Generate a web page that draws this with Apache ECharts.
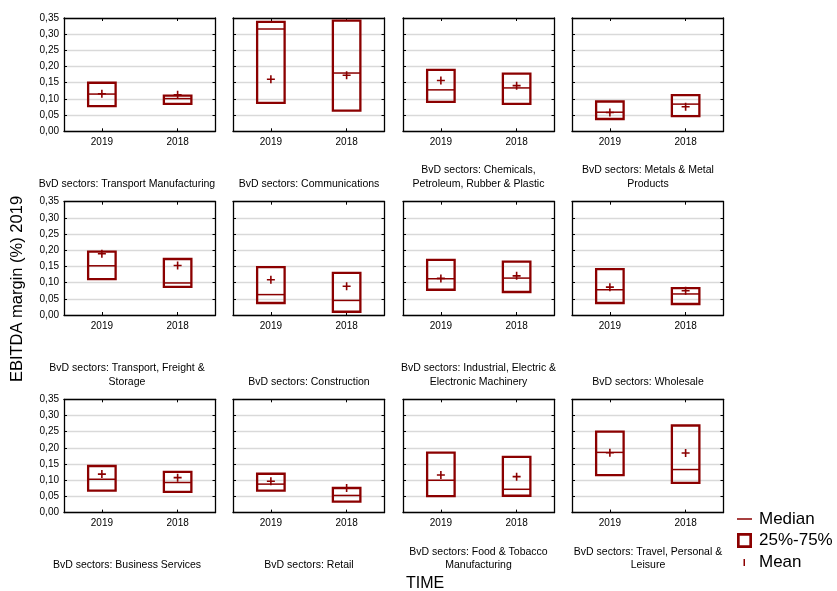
<!DOCTYPE html>
<html>
<head>
<meta charset="utf-8">
<script src="https://cdn.jsdelivr.net/npm/echarts@6/dist/echarts.min.js"></script>
<style>
html,body{margin:0;padding:0;background:#fff;}
#chart{width:837px;height:591px;}
</style>
</head>
<body>
<div id="chart"></div>
<script>
// ---- data ----
const categories = ['2019', '2018'];
const sectors = [
  'BvD sectors: Transport Manufacturing',
  'BvD sectors: Communications',
  'BvD sectors: Chemicals,\nPetroleum, Rubber & Plastic',
  'BvD sectors: Metals & Metal\nProducts',
  'BvD sectors: Transport, Freight &\nStorage',
  'BvD sectors: Construction',
  'BvD sectors: Industrial, Electric &\nElectronic Machinery',
  'BvD sectors: Wholesale',
  'BvD sectors: Business Services',
  'BvD sectors: Retail',
  'BvD sectors: Food & Tobacco\nManufacturing',
  'BvD sectors: Travel, Personal &\nLeisure'
];
// values per sector: [2019, 2018]
const q25 = [
  [0.078, 0.085], [0.088, 0.064], [0.091, 0.085], [0.038, 0.047],
  [0.111, 0.087], [0.037, 0.010], [0.078, 0.071], [0.037, 0.034],
  [0.068, 0.064], [0.068, 0.034], [0.051, 0.052], [0.116, 0.092]
];
const q75 = [
  [0.150, 0.110], [0.338, 0.342], [0.190, 0.178], [0.092, 0.112],
  [0.196, 0.173], [0.148, 0.130], [0.170, 0.165], [0.142, 0.083],
  [0.144, 0.126], [0.120, 0.076], [0.185, 0.172], [0.250, 0.269]
];
const medians = [
  [0.115, 0.101], [0.316, 0.180], [0.128, 0.134], [0.059, 0.084],
  [0.152, 0.099], [0.063, 0.045], [0.112, 0.114], [0.078, 0.065],
  [0.103, 0.093], [0.088, 0.053], [0.100, 0.072], [0.186, 0.133]
];
const means = [
  [0.116, 0.113], [0.161, 0.173], [0.157, 0.141], [0.058, 0.076],
  [0.189, 0.153], [0.109, 0.089], [0.113, 0.121], [0.086, 0.075],
  [0.119, 0.108], [0.097, 0.076], [0.116, 0.111], [0.185, 0.184]
];
const yMin = 0, yMax = 0.35, yStep = 0.05;
const yTitle = 'EBITDA margin (%) 2019';
const xTitle = 'TIME';

// ---- layout ----
const FONT = '"Liberation Sans", Arial, sans-serif';
const RED = '#8B0000';
const rowTops = [18, 201.7, 399.3];
const gridH = 113.3;
const colLefts = [64, 233, 403, 572];
const gridW = 151.5;
const titleCx = [127, 309, 478.5, 648];
const titleBottoms = [399.9, 202.5, 18.7];

const grids = [], xAxes = [], yAxes = [], series = [], titles = [];
const fmt = v => v.toFixed(2).replace('.', ',');
const plusPath = 'path://M3.2,0h1.6v3.2h3.2v1.6h-3.2v3.2h-1.6v-3.2h-3.2v-1.6h3.2z';

sectors.forEach((name, i) => {
  const r = Math.floor(i / 4), c = i % 4;
  grids.push({left: colLefts[c], top: rowTops[r], width: gridW, height: gridH, containLabel: false});
  const line = {show: true, onZero: false, lineStyle: {color: '#000', width: 1.3}};
  const xb = xAxes.length;
  xAxes.push({
    type: 'category', gridIndex: i, data: categories, position: 'bottom',
    axisLine: line, axisTick: {show: true, inside: true, alignWithLabel: true, length: 3, lineStyle: {color: '#000'}},
    axisLabel: {color: '#000', fontSize: 10, fontFamily: FONT, margin: 6}
  });
  xAxes.push({
    type: 'category', gridIndex: i, data: categories, position: 'top',
    axisLine: line, axisTick: {show: true, inside: true, alignWithLabel: true, length: 3, lineStyle: {color: '#000'}},
    axisLabel: {show: false}
  });
  const yl = yAxes.length;
  yAxes.push({
    type: 'value', gridIndex: i, min: yMin, max: yMax, interval: yStep, position: 'left',
    axisLine: line, axisTick: {show: true, inside: true, length: 3, lineStyle: {color: '#000'}},
    splitLine: {show: true, lineStyle: {color: '#d9d9d9', width: 1.3}},
    axisLabel: {show: c === 0, color: '#000', fontSize: 10, fontFamily: FONT, margin: 5, formatter: fmt}
  });
  yAxes.push({
    type: 'value', gridIndex: i, min: yMin, max: yMax, interval: yStep, position: 'right',
    axisLine: line, axisTick: {show: true, inside: true, length: 3, lineStyle: {color: '#000'}},
    splitLine: {show: false}, axisLabel: {show: false}
  });
  const boxData = categories.map((cat, k) => [k, q25[i][k], q75[i][k]]);
  series.push({
    type: 'custom', name: '25%-75%', xAxisIndex: xb, yAxisIndex: yl,
    itemStyle: {color: RED}, z: 3,
    data: boxData,
    renderItem: (params, api) => {
      const x = api.value(0);
      const top = api.coord([x, api.value(2)]);
      const bot = api.coord([x, api.value(1)]);
      const w = api.size([1, 0])[0] * 0.363;
      return {type: 'rect', shape: {x: top[0] - w / 2, y: top[1], width: w, height: bot[1] - top[1]},
        style: {fill: null, stroke: RED, lineWidth: 2.3}};
    }
  });
  series.push({
    type: 'custom', name: 'Median', xAxisIndex: xb, yAxisIndex: yl,
    itemStyle: {color: RED}, z: 4,
    data: categories.map((cat, k) => [k, medians[i][k]]),
    renderItem: (params, api) => {
      const x = api.value(0);
      const p = api.coord([x, api.value(1)]);
      const w = api.size([1, 0])[0] * 0.363;
      return {type: 'line', shape: {x1: p[0] - w / 2, y1: p[1], x2: p[0] + w / 2, y2: p[1]},
        style: {stroke: RED, lineWidth: 1.5}};
    }
  });
  series.push({
    type: 'scatter', name: 'Mean', xAxisIndex: xb, yAxisIndex: yl,
    symbol: plusPath, symbolSize: 8, itemStyle: {color: RED, opacity: 1}, z: 5,
    data: categories.map((cat, k) => [k, means[i][k]])
  });
  titles.push({
    text: name, left: titleCx[c], bottom: titleBottoms[r], textAlign: 'center', padding: 0,
    textStyle: {fontSize: 10.5, fontWeight: 'normal', color: '#000', fontFamily: FONT, lineHeight: 13.7}
  });
});

const legendText = {fontSize: 17, color: '#000', fontFamily: FONT};
const option = {
  animation: false,
  backgroundColor: '#fff',
  title: titles,
  grid: grids,
  xAxis: xAxes,
  yAxis: yAxes,
  series: series,
  legend: [
    {data: ['Median'], left: 737, top: 510.5, padding: 0, selectedMode: false,
     icon: 'rect', itemWidth: 15, itemHeight: 1.5, textStyle: Object.assign({padding: [0, 0, 0, 2]}, legendText)},
    {data: ['25%-75%'], left: 737, top: 532, padding: 0, selectedMode: false,
     icon: 'path://M0,0H14V14H0Z M2.5,2.5V11.5H11.5V2.5Z', itemWidth: 15, itemHeight: 15,
     textStyle: Object.assign({padding: [0, 0, 0, 2]}, legendText)},
    {data: ['Mean'], left: 743.5, top: 554, padding: 0, selectedMode: false,
     icon: 'rect', itemWidth: 1.5, itemHeight: 7, textStyle: Object.assign({padding: [0, 0, 0, 9]}, legendText)}
  ],
  graphic: [
    {type: 'text', x: 17, y: 289, rotation: Math.PI / 2,
     style: {text: yTitle, align: 'center', verticalAlign: 'middle', fill: '#000', font: '16.5px ' + FONT}},
    {type: 'text', x: 406, y: 584,
     style: {text: xTitle, align: 'left', verticalAlign: 'middle', fill: '#000', font: '16px ' + FONT}}
  ]
};
const chart = echarts.init(document.getElementById('chart'), null, {renderer: 'canvas'});
chart.setOption(option);
</script>
</body>
</html>
